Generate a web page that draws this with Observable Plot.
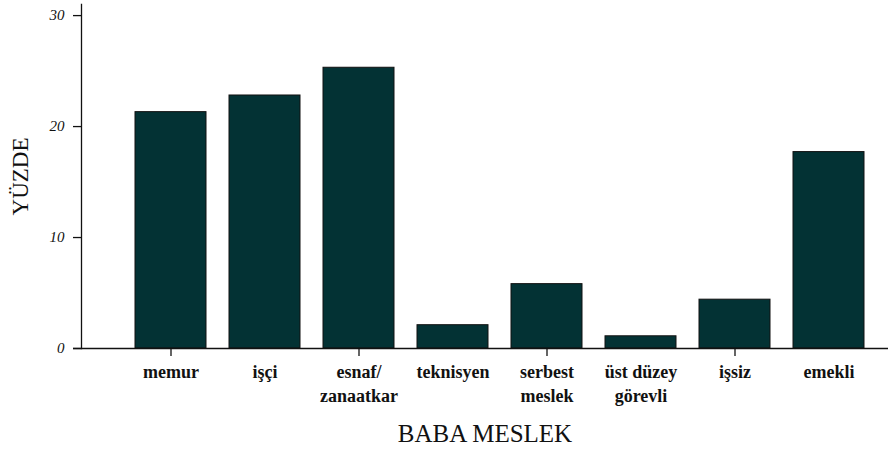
<!DOCTYPE html>
<html><head><meta charset="utf-8">
<script src="https://cdn.jsdelivr.net/npm/d3@7"></script>
<script src="https://cdn.jsdelivr.net/npm/@observablehq/plot@0.6"></script>
<style>body{margin:0;background:#fff}</style>
</head><body><div id="chart"></div>
<script>
const categories = ["memur", "işçi", "esnaf/\nzanaatkar", "teknisyen", "serbest\nmeslek", "üst düzey\ngörevli", "işsiz", "emekli"];
const values = [21.3, 22.8, 25.3, 2.1, 5.8, 1.1, 4.4, 17.7];
const yTicks = [0, 10, 20, 30];
const tickedCategories = [categories[0], categories[2], categories[4], categories[6]];
const yTitle = "YÜZDE";
const xTitle = "BABA MESLEK";

const data = categories.map((c, i) => ({cat: c, value: values[i]}));
const serif = "'Liberation Serif', 'DejaVu Serif', serif";

const chart = Plot.plot({
  width: 888, height: 450,
  marginLeft: 81, marginRight: 0, marginTop: 4, marginBottom: 102,
  x: {domain: categories, paddingInner: 0.245, paddingOuter: 0.415, align: 0.686},
  y: {domain: [0, 31]},
  style: {fontFamily: serif, background: "#fff", color: "#111"},
  marks: [
    Plot.barY(data, {x: "cat", y: "value", fill: "#033234", stroke: "#111", strokeWidth: 1}),
    Plot.frame({anchor: "left", stroke: "#111", strokeWidth: 1.3}),
    Plot.ruleY([0], {stroke: "#111", strokeWidth: 1.3, insetLeft: -8}),
    Plot.axisY({ticks: yTicks, tickSize: 8, tickPadding: 9, fontFamily: serif, fontStyle: "italic", fontSize: 15, label: null, strokeWidth: 1.3}),
    Plot.axisX({tickSize: 0, tickPadding: 13, fontFamily: serif, fontWeight: "bold", fontSize: 18, lineHeight: 1.3, label: null}),
    Plot.axisX({ticks: tickedCategories, tickSize: 8, tickFormat: () => "", label: null, strokeWidth: 1.3}),
    Plot.text([yTitle], {text: d => d, frameAnchor: "left", textAnchor: "middle", rotate: -90, dx: -61, fontFamily: serif, fontSize: 23}),
    Plot.text([xTitle], {text: d => d, frameAnchor: "bottom", dy: 93, fontFamily: serif, fontSize: 25})
  ]
});
document.getElementById("chart").append(chart);
</script>
</body></html>
